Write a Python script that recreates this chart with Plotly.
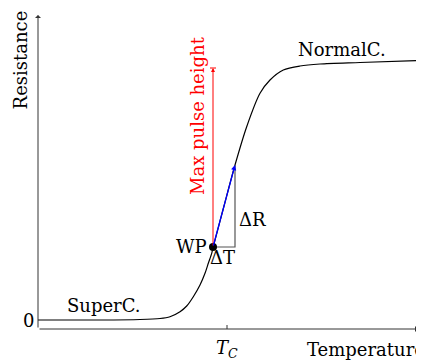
import plotly.graph_objects as go

# Curve (arbitrary units)
temperature = [0, 62, 102, 122, 132, 142, 148.7, 155.3, 162, 167, 170.3, 173.7, 175.3,
               186, 197, 208.7, 222, 232, 245.3, 262, 282, 322, 380]
resistance = [0, 0, 0.5, 1.5, 3.3, 8.3, 14, 23.3, 35, 46.7, 56.7, 66.7, 73.3,
              114, 155, 193.3, 226.7, 240, 250, 254, 256, 257.5, 259.5]

wp_T, wp_R = 175, 73          # working point
pulse_T, pulse_R = 197, 155   # after a pulse
max_pulse_R = 252             # max pulse height level
T_C = 189
x_range = [0, 380]
y_range = [-9, 305]

FONT = "DejaVu Serif"
FS = 18
fig = go.Figure()
fig.add_trace(go.Scatter(x=temperature, y=resistance, mode="lines",
                         line=dict(color="black", width=1.2, shape="spline", smoothing=0.8),
                         hoverinfo="skip"))
# Delta T and Delta R lines
fig.add_trace(go.Scatter(x=[wp_T, pulse_T, pulse_T], y=[wp_R, wp_R, pulse_R], mode="lines",
                         line=dict(color="#555", width=1.2), hoverinfo="skip"))

ann = []
def arrow(x, y, ax, ay, color, width=1.0, head=2, size=1.0):
    ann.append(dict(x=x, y=y, ax=ax, ay=ay, xref="x", yref="y", axref="x", ayref="y",
                    showarrow=True, arrowhead=head, arrowsize=size, arrowwidth=width,
                    arrowcolor=color, text=""))

# axes
arrow(x_range[1], y_range[0], 0, y_range[0], "#333", 1.0, 1, 1.0)
arrow(0, y_range[1], 0, y_range[0], "#333", 1.0, 1, 1.0)
# red max pulse arrow
arrow(wp_T, max_pulse_R, wp_T, wp_R, "red", 1.0, 2, 0.8)
# blue pulse arrow
arrow(pulse_T, pulse_R, wp_T, wp_R, "blue", 1.3, 2, 0.8)

def txt(x, y, s, color="black", angle=0, xanchor="center", yanchor="middle",
        xref="x", yref="y"):
    ann.append(dict(x=x, y=y, xref=xref, yref=yref, text=s, showarrow=False,
                    font=dict(family=FONT, size=FS, color=color), textangle=angle,
                    xanchor=xanchor, yanchor=yanchor))

txt(66, 15, "SuperC.")
txt(304, 271, "NormalC.")
txt(171, 74, "WP", xanchor="right")
txt(184, 63, "ΔT")
txt(214, 101, "ΔR")
txt(159, 204, "Max pulse height", color="red", angle=-90)
txt(-0.024, 0, "0", xref="paper")
txt(T_C, -0.064, "<i>T</i><sub><i>C</i></sub>", yref="paper")
txt(0.703, -0.064, "Temperature", xanchor="left", xref="paper", yref="paper")
txt(-0.046, 0.857, "Resistance", angle=-90, xref="paper", yref="paper")
fig.update_layout(annotations=ann)

fig.add_trace(go.Scatter(x=[wp_T], y=[wp_R], mode="markers",
                         marker=dict(color="black", size=8), hoverinfo="skip"))

# T_C tick, zero tick, bar at top of red arrow
fig.add_shape(type="line", x0=T_C, x1=T_C, y0=y_range[0] - 4, y1=y_range[0] + 4,
              xref="x", yref="y", line=dict(color="#333", width=1))
fig.add_shape(type="line", x0=-3, x1=0, y0=0, y1=0,
              xref="x", yref="y", line=dict(color="#333", width=1))
fig.add_shape(type="line", x0=wp_T - 3, x1=wp_T + 3, y0=max_pulse_R, y1=max_pulse_R,
              xref="x", yref="y", line=dict(color="red", width=1))

fig.update_xaxes(range=x_range, visible=False)
fig.update_yaxes(range=y_range, visible=False)
# the page body adds an 8px offset, so the figure is 8px smaller and margins shifted
fig.update_layout(width=416, height=353,
                  margin=dict(l=30, r=6, t=7, b=32, autoexpand=False),
                  showlegend=False, plot_bgcolor="white", paper_bgcolor="white")
fig.write_html("out.html")
